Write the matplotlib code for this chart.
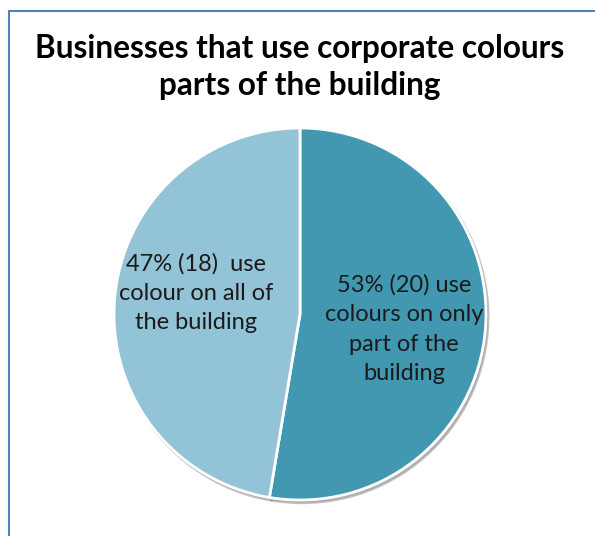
import matplotlib.pyplot as plt
from matplotlib.patches import Rectangle

# datos del grafico
categorias = ['53% (20) use\ncolours on only\npart of the\nbuilding',
              '47% (18)  use\ncolour on all of\nthe building']
valores = [20, 18]
colores = ['#4398b1', '#93c3d6']
titulo = 'Businesses that use corporate colours\nparts of the building'

W, H = 595, 536
fig = plt.figure(figsize=(W/100, H/100), dpi=100)
ax = fig.add_axes([0, 0, 1, 1])

wedges, textos = ax.pie(valores, labels=categorias, colors=colores,
                        startangle=90, counterclock=False,
                        center=(300, H - 314), radius=186,
                        labeldistance=0.53,
                        shadow={'ox': 1.5, 'oy': -2.0, 'shade': 0.0, 'color': '#9a9a9a', 'alpha': 0.6},
                        wedgeprops={'edgecolor': 'white', 'linewidth': 2},
                        textprops={'fontsize': 17, 'family': 'Lato', 'color': '#1a1a1a',
                                   'linespacing': 1.5})
# pequeño ajuste de las etiquetas (en pixeles) para que queden como en la imagen
ajustes = [(6, -7), (-6, 13)]
for t, (dx, dy) in zip(textos, ajustes):
    x, y = t.get_position()
    t.set_position((x + dx, y + dy))
    t.set_horizontalalignment('center')
    t.set_verticalalignment('center')

# los limites van despues del pie porque pie los reajusta
ax.set_xlim(0, W)
ax.set_ylim(0, H)
ax.set_aspect('equal')
ax.axis('off')

# marco azul del grafico (sale por la derecha y abajo)
ax.add_patch(Rectangle((8.5, -20), W + 20, H - 10.5 + 20, fill=False,
                       edgecolor='#4f81bd', linewidth=1.5, clip_on=False))

ax.text(300, H - 67, titulo, ha='center', va='center', fontsize=22.7,
        fontweight='bold', family='Lato', color='black', linespacing=1.33)

fig.savefig('out.png', dpi=100)
